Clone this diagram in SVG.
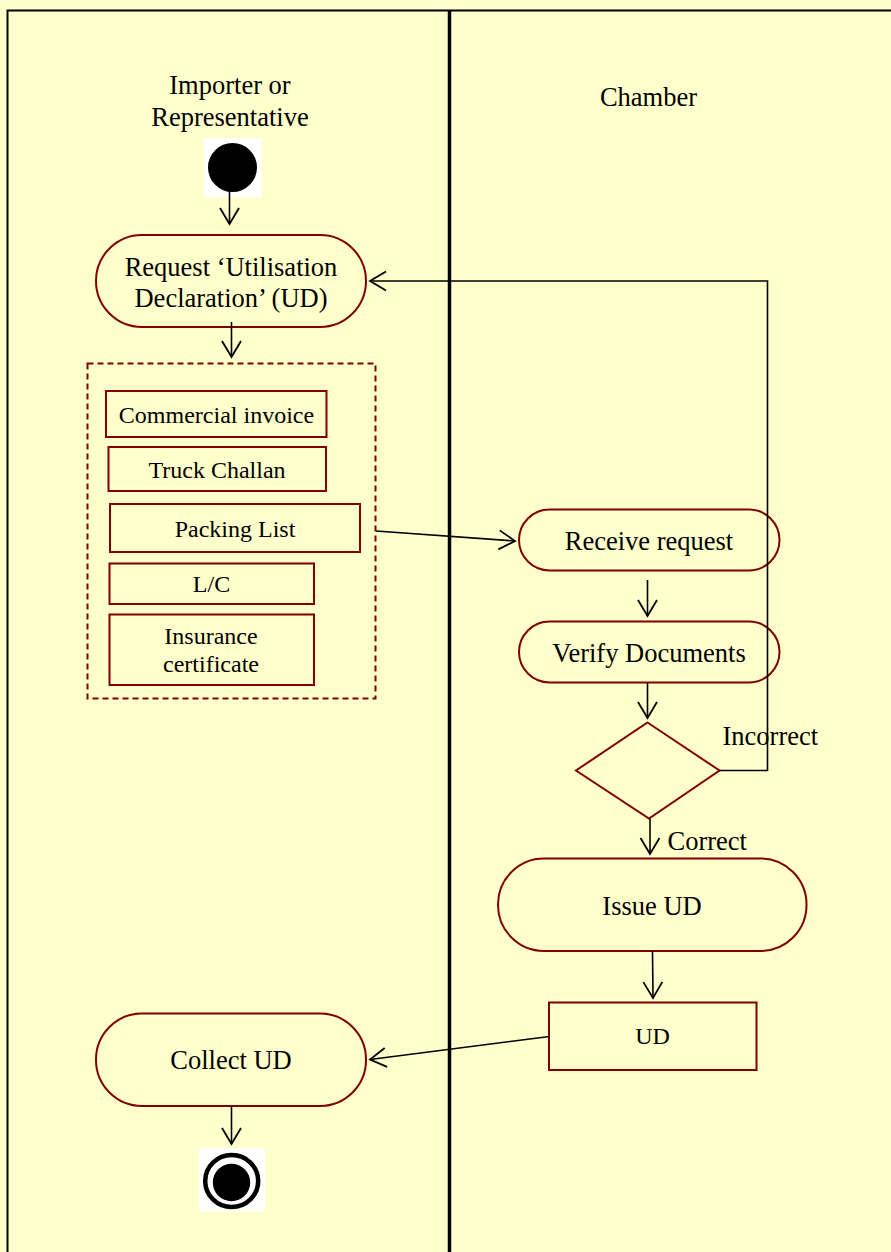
<svg xmlns="http://www.w3.org/2000/svg" width="891" height="1252" viewBox="0 0 891 1252">
<defs>
<style>
.bg{fill:#FFFFCC}
.node{fill:#FFFFCC;stroke:#800000;stroke-width:2}
.dash{fill:none;stroke:#800000;stroke-width:2;stroke-dasharray:6 4}
.t{font-family:"Liberation Serif","Times New Roman",serif;font-size:26.5px;fill:#000;text-anchor:middle}
.s{font-family:"Liberation Serif","Times New Roman",serif;font-size:24px;fill:#000;text-anchor:middle}
.lbl{font-family:"Liberation Serif","Times New Roman",serif;font-size:26.5px;fill:#000}
.c{fill:none;stroke:#000;stroke-width:1.6}
.lane{fill:none;stroke:#000}
</style>
<marker id="arr" markerUnits="userSpaceOnUse" markerWidth="24" markerHeight="24" viewBox="-20 -12 24 24" refX="0" refY="0" orient="auto">
<path d="M-16,-9.5 L0,0 L-16,9.5" fill="none" stroke="#000" stroke-width="1.8"/>
</marker>
</defs>
<rect class="bg" x="0" y="0" width="891" height="1252"/>
<g id="lanes">
<path class="lane" stroke-width="2" d="M7.5,1252 V10.5 H891"/>
<line class="lane" stroke-width="3.5" x1="449.5" y1="10.5" x2="449.5" y2="1252"/>
<text class="t" x="230" y="94">Importer or</text>
<text class="t" x="230" y="126">Representative</text>
<text class="t" x="648.5" y="106">Chamber</text>
</g>
<g id="start">
<rect x="204" y="138" width="58" height="59" fill="#fff"/>
<circle cx="232.5" cy="167.5" r="24.5" fill="#000"/>
</g>
<g id="request">
<rect class="node" x="96" y="235" width="270" height="92" rx="46"/>
<text class="t" x="231" y="276">Request ‘Utilisation</text>
<text class="t" x="231" y="307">Declaration’ (UD)</text>
</g>
<g id="documents">
<rect class="dash" x="87.5" y="363.5" width="288" height="335"/>
<g id="commercial-invoice">
<rect class="node" x="106" y="391" width="220.5" height="46"/>
<text class="s" x="216.5" y="423">Commercial invoice</text>
</g>
<g id="truck-challan">
<rect class="node" x="108.5" y="447" width="217.5" height="44"/>
<text class="s" x="217" y="478">Truck Challan</text>
</g>
<g id="packing-list">
<rect class="node" x="110" y="504" width="250" height="48"/>
<text class="s" x="235" y="537">Packing List</text>
</g>
<g id="lc">
<rect class="node" x="109.5" y="563.5" width="204.5" height="40.5"/>
<text class="s" x="211.5" y="592">L/C</text>
</g>
<g id="insurance">
<rect class="node" x="109.5" y="614.5" width="204.5" height="70.5"/>
<text class="s" x="211" y="644">Insurance</text>
<text class="s" x="211" y="672">certificate</text>
</g>
</g>
<g id="receive">
<rect class="node" x="519" y="509.5" width="260.5" height="61" rx="30.5"/>
<text class="t" x="649" y="550">Receive request</text>
</g>
<g id="verify">
<rect class="node" x="519" y="621.5" width="260.5" height="61" rx="30.5"/>
<text class="t" x="649" y="662">Verify Documents</text>
</g>
<g id="decision">
<polygon class="node" points="647.5,722.5 719.5,770.5 649,818.5 576,770.5"/>
</g>
<g id="issue">
<rect class="node" x="498" y="858.5" width="308.5" height="92.5" rx="46"/>
<text class="t" x="652" y="915">Issue UD</text>
</g>
<g id="ud">
<rect class="node" x="549" y="1002.5" width="207.5" height="67.5"/>
<text class="s" x="652.5" y="1044">UD</text>
</g>
<g id="collect">
<rect class="node" x="96" y="1013.5" width="270" height="92.5" rx="46"/>
<text class="t" x="231" y="1069">Collect UD</text>
</g>
<g id="end">
<rect x="199" y="1148" width="66" height="63.5" fill="#fff"/>
<ellipse cx="231.7" cy="1181" rx="26.5" ry="26" fill="#fff" stroke="#000" stroke-width="4.5"/>
<circle cx="231.5" cy="1182.5" r="18.7" fill="#000"/>
</g>
<g id="connectors">
<line class="c" x1="229.5" y1="190" x2="229.5" y2="224" marker-end="url(#arr)"/>
<line class="c" x1="231.5" y1="322" x2="231.5" y2="357" marker-end="url(#arr)"/>
<line class="c" x1="376" y1="531" x2="515" y2="541" marker-end="url(#arr)"/>
<line class="c" x1="647.5" y1="580" x2="647.5" y2="616" marker-end="url(#arr)"/>
<line class="c" x1="647.5" y1="683" x2="647.5" y2="718" marker-end="url(#arr)"/>
<line class="c" x1="650" y1="818.5" x2="650" y2="854" marker-end="url(#arr)"/>
<polyline class="c" points="719.5,770.5 767.5,770.5 767.5,281 370,281" marker-end="url(#arr)"/>
<line class="c" x1="652.5" y1="951" x2="653" y2="998" marker-end="url(#arr)"/>
<line class="c" x1="549.5" y1="1036.5" x2="370" y2="1059.5" marker-end="url(#arr)"/>
<line class="c" x1="231.5" y1="1106" x2="231.5" y2="1144" marker-end="url(#arr)"/>
<text class="lbl" x="722.5" y="744.5">Incorrect</text>
<text class="lbl" x="667.5" y="849.5">Correct</text>
</g>
</svg>
